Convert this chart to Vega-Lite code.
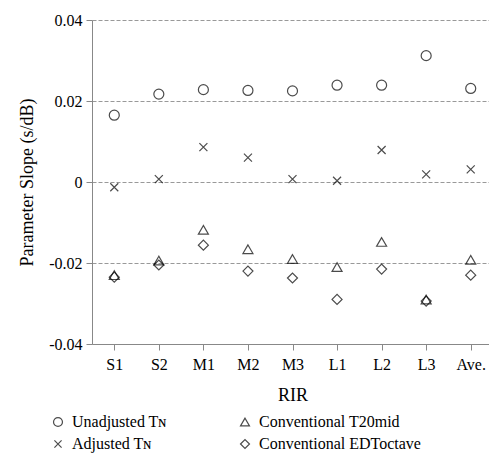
{
  "$schema": "https://vega.github.io/schema/vega-lite/v6.json",
  "autosize": {"type": "none"},
  "width": 401,
  "height": 324,
  "padding": {"left": 92, "top": 20, "right": 0, "bottom": 110},
  "background": "white",
  "config": {
    "view": {"stroke": null},
    "font": "Liberation Serif",
    "axis": {"labelFont": "Liberation Serif", "titleFont": "Liberation Serif"},
    "legend": {"labelFont": "Liberation Serif"}
  },
  "data": {
    "values": [
      {"rir": "S1", "series": "Unadjusted Tɴ", "value": 0.0165},
      {"rir": "S2", "series": "Unadjusted Tɴ", "value": 0.0217},
      {"rir": "M1", "series": "Unadjusted Tɴ", "value": 0.0228},
      {"rir": "M2", "series": "Unadjusted Tɴ", "value": 0.0226},
      {"rir": "M3", "series": "Unadjusted Tɴ", "value": 0.0225},
      {"rir": "L1", "series": "Unadjusted Tɴ", "value": 0.0239},
      {"rir": "L2", "series": "Unadjusted Tɴ", "value": 0.0239},
      {"rir": "L3", "series": "Unadjusted Tɴ", "value": 0.0312},
      {"rir": "Ave.", "series": "Unadjusted Tɴ", "value": 0.0231},
      {"rir": "S1", "series": "Adjusted Tɴ", "value": -0.0013},
      {"rir": "S2", "series": "Adjusted Tɴ", "value": 0.0007},
      {"rir": "M1", "series": "Adjusted Tɴ", "value": 0.0086},
      {"rir": "M2", "series": "Adjusted Tɴ", "value": 0.0060},
      {"rir": "M3", "series": "Adjusted Tɴ", "value": 0.0007},
      {"rir": "L1", "series": "Adjusted Tɴ", "value": 0.0003},
      {"rir": "L2", "series": "Adjusted Tɴ", "value": 0.0079},
      {"rir": "L3", "series": "Adjusted Tɴ", "value": 0.0019},
      {"rir": "Ave.", "series": "Adjusted Tɴ", "value": 0.0031},
      {"rir": "S1", "series": "Conventional T20mid", "value": -0.0230},
      {"rir": "S2", "series": "Conventional T20mid", "value": -0.0194},
      {"rir": "M1", "series": "Conventional T20mid", "value": -0.0118},
      {"rir": "M2", "series": "Conventional T20mid", "value": -0.0166},
      {"rir": "M3", "series": "Conventional T20mid", "value": -0.0190},
      {"rir": "L1", "series": "Conventional T20mid", "value": -0.0210},
      {"rir": "L2", "series": "Conventional T20mid", "value": -0.0148},
      {"rir": "L3", "series": "Conventional T20mid", "value": -0.0290},
      {"rir": "Ave.", "series": "Conventional T20mid", "value": -0.0192},
      {"rir": "S1", "series": "Conventional EDToctave", "value": -0.0235},
      {"rir": "S2", "series": "Conventional EDToctave", "value": -0.0205},
      {"rir": "M1", "series": "Conventional EDToctave", "value": -0.0156},
      {"rir": "M2", "series": "Conventional EDToctave", "value": -0.0220},
      {"rir": "M3", "series": "Conventional EDToctave", "value": -0.0237},
      {"rir": "L1", "series": "Conventional EDToctave", "value": -0.0290},
      {"rir": "L2", "series": "Conventional EDToctave", "value": -0.0215},
      {"rir": "L3", "series": "Conventional EDToctave", "value": -0.0294},
      {"rir": "Ave.", "series": "Conventional EDToctave", "value": -0.0230}
    ]
  },
  "mark": {"type": "point", "filled": false, "color": "black", "strokeWidth": 1.2, "size": 100},
  "encoding": {
    "x": {
      "field": "rir", "type": "nominal",
      "sort": ["S1", "S2", "M1", "M2", "M3", "L1", "L2", "L3", "Ave."],
      "scale": {"paddingInner": 0, "paddingOuter": 0},
      "axis": {
        "title": "RIR", "titleFontSize": 18, "titleFontWeight": "normal", "titleColor": "black", "titlePadding": 14,
        "titleFont": "Liberation Serif", "labelFont": "Liberation Serif",
        "labelAngle": 0, "labelFontSize": 16, "labelColor": "black", "labelPadding": 6,
        "bandPosition": 0, "domainColor": "#888", "tickColor": "#888", "tickSize": 6, "grid": false
      }
    },
    "y": {
      "field": "value", "type": "quantitative",
      "scale": {"domain": [-0.04, 0.04], "nice": false},
      "axis": {
        "title": "Parameter Slope (s/dB)", "titleFontSize": 18, "titleFontWeight": "normal", "titleColor": "black", "titlePadding": 12,
        "titleFont": "Liberation Serif", "labelFont": "Liberation Serif",
        "values": [-0.04, -0.02, 0, 0.02, 0.04],
        "labelExpr": "datum.value == 0 ? '0' : replace(format(datum.value, '.2f'), '−', '-')",
        "labelFontSize": 16, "labelColor": "black", "labelPadding": 4,
        "domainColor": "#888", "tickColor": "#888", "tickSize": 6,
        "grid": true, "gridColor": "#999", "gridDash": [4, 2]
      }
    },
    "shape": {
      "field": "series", "type": "nominal",
      "scale": {
        "domain": ["Unadjusted Tɴ", "Adjusted Tɴ", "Conventional T20mid", "Conventional EDToctave"],
        "range": ["circle", "M-0.8,-0.8L0.8,0.8M-0.8,0.8L0.8,-0.8", "triangle-up", "diamond"]
      },
      "legend": {
        "title": null, "orient": "none", "legendX": -42, "legendY": 394,
        "columns": 2, "columnPadding": 70, "rowPadding": 6,
        "labelFont": "Liberation Serif", "labelLimit": 0,
        "labelFontSize": 16, "labelColor": "black", "symbolStrokeColor": "black", "symbolStrokeWidth": 1.2,
        "symbolSize": 80, "symbolFillColor": "transparent", "labelOffset": 6
      }
    }
  }
}
